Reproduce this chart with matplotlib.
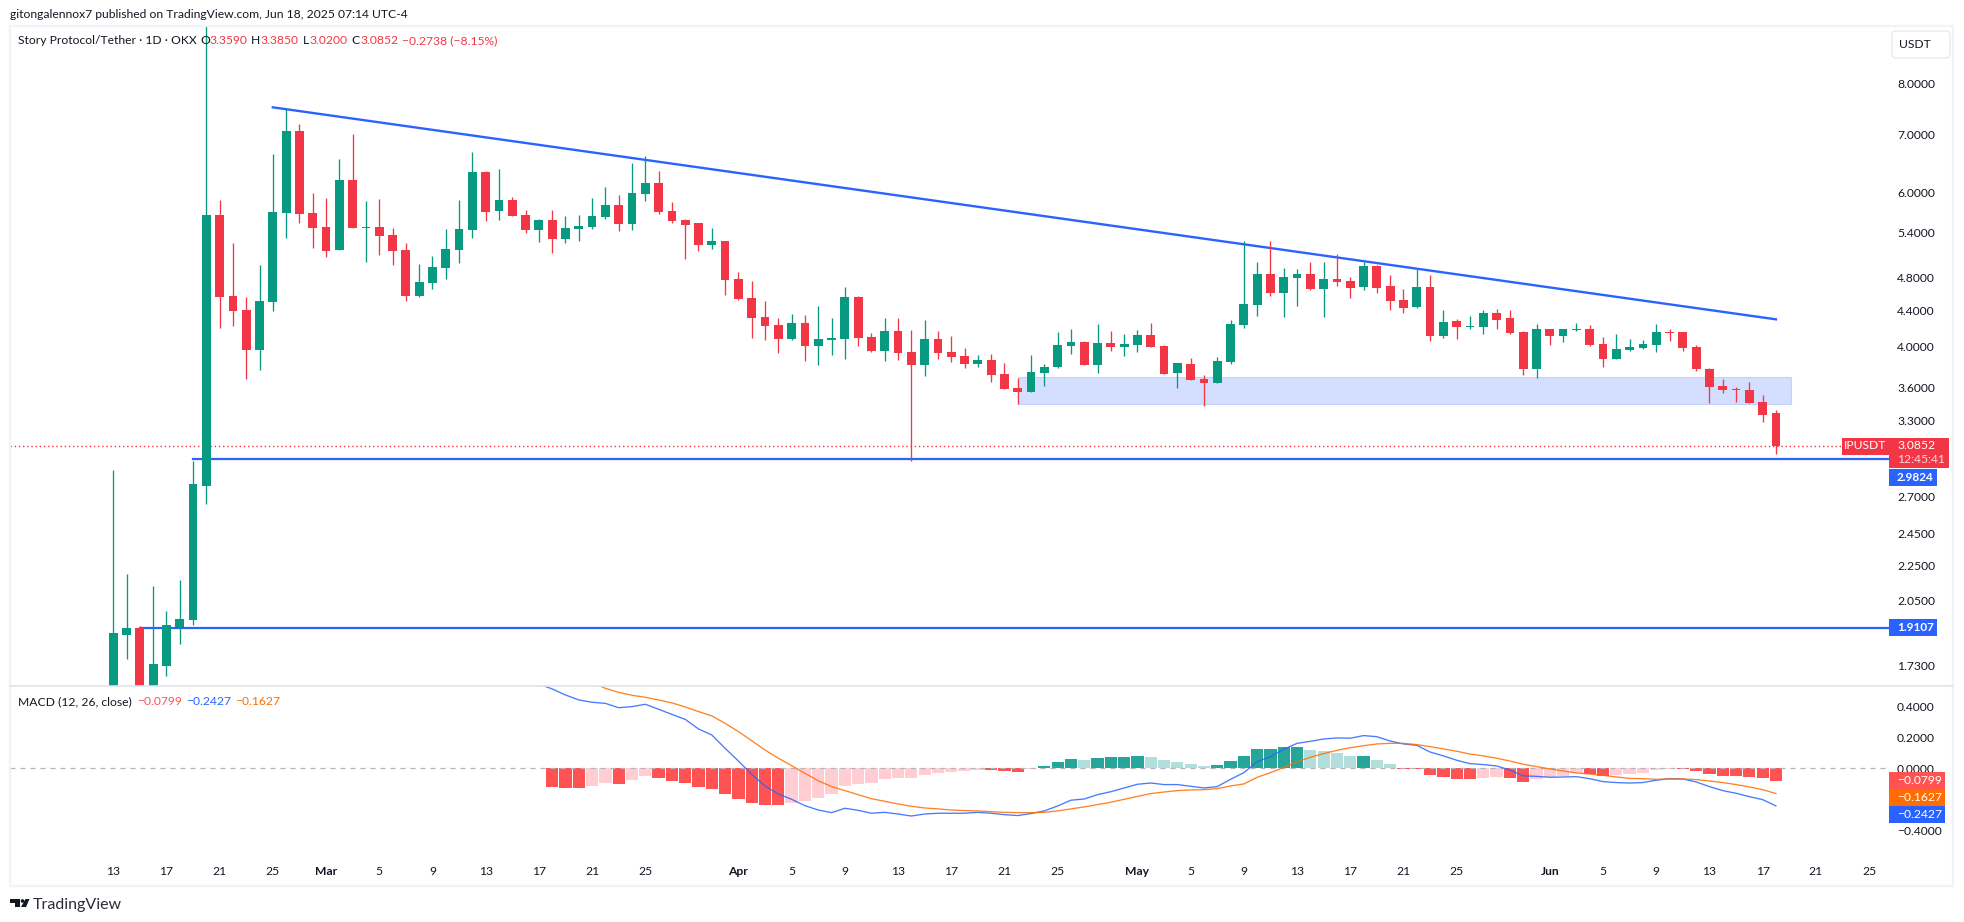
import numpy as np
import pandas as pd
import matplotlib
matplotlib.use("Agg")
import matplotlib.pyplot as plt
import matplotlib.dates as mdates
from matplotlib.patches import Rectangle, Polygon, Circle, FancyBboxPatch

start_date = "2025-02-13"
o = [1.448,1.875,1.909,1.601,1.728,1.914,1.95,2.775,5.661,4.575,4.409,3.969,4.503,5.691,7.062,5.691,5.485,5.163,6.208,5.471,5.485,5.371,5.163,4.575,4.734,4.924,5.163,5.442,6.34,5.721,5.889,5.661,5.442,5.587,5.315,5.457,5.485,5.632,5.812,5.529,5.983,6.159,5.721,5.587,5.543,5.232,5.287,4.784,4.551,4.329,4.238,4.085,4.261,4.011,4.074,4.085,4.563,4.107,3.958,4.172,3.948,3.815,4.085,3.948,3.906,3.825,3.865,3.726,3.591,3.553,3.735,3.795,4.011,4.053,3.815,4.042,4.0,4.021,4.128,4.011,3.735,3.825,3.677,3.638,3.845,4.238,4.467,4.847,4.611,4.796,4.847,4.66,4.784,4.759,4.684,4.95,4.697,4.527,4.444,4.684,4.117,4.283,4.216,4.216,4.374,4.317,4.161,3.775,4.194,4.117,4.183,4.194,4.032,3.876,3.969,3.989,4.021,4.161,4.161,4.0,3.775,3.61,3.581,3.572,3.461,3.359]
h = [2.894,2.201,1.92,2.133,1.997,2.167,2.963,9.838,5.889,5.259,4.563,4.963,6.647,7.483,7.193,5.999,5.92,6.56,7.006,5.874,5.905,5.471,5.259,4.976,5.082,5.457,5.889,6.682,6.356,6.39,5.936,5.736,5.602,5.736,5.646,5.661,5.92,6.094,5.967,6.492,6.612,6.356,5.858,5.602,5.543,5.471,5.287,4.873,4.759,4.515,4.317,4.363,4.351,4.456,4.317,4.684,4.575,4.15,4.317,4.317,4.183,4.295,4.172,4.117,3.989,3.917,3.927,3.835,3.687,3.917,3.825,4.161,4.194,4.064,4.25,4.172,4.139,4.183,4.261,4.021,3.835,3.886,3.716,3.896,4.295,5.287,5.003,5.287,4.924,4.911,5.003,5.003,5.109,4.809,5.003,4.963,4.834,4.66,4.924,4.834,4.409,4.306,4.34,4.409,4.421,4.409,4.172,4.25,4.194,4.194,4.261,4.238,4.107,4.139,4.085,4.074,4.25,4.194,4.161,4.021,3.785,3.677,3.6,3.648,3.525,3.385]
l = [1.422,1.76,1.499,1.559,1.683,1.831,1.925,2.646,4.205,4.227,3.677,3.765,4.397,5.329,5.543,5.19,5.069,5.163,5.471,5.003,5.096,4.963,4.515,4.563,4.66,4.784,4.99,5.329,5.573,5.587,5.646,5.399,5.273,5.123,5.259,5.287,5.457,5.602,5.428,5.442,5.874,5.676,5.543,5.042,5.15,5.177,4.587,4.527,4.096,4.074,3.937,4.074,3.855,3.815,3.917,3.876,4.011,3.948,3.855,3.865,2.963,3.706,3.876,3.845,3.785,3.795,3.648,3.581,3.443,3.553,3.61,3.785,3.927,3.815,3.735,3.958,3.906,3.948,4.0,3.726,3.591,3.667,3.425,3.638,3.825,4.205,4.34,4.575,4.329,4.456,4.647,4.329,4.697,4.551,4.647,4.611,4.409,4.374,4.432,4.064,4.096,4.085,4.194,4.139,4.194,4.139,3.716,3.687,4.021,4.053,4.172,4.011,3.795,3.876,3.958,3.979,3.948,4.064,3.958,3.755,3.452,3.544,3.461,3.452,3.284,3.02]
c = [1.885,1.909,1.559,1.737,1.925,1.955,2.789,5.661,4.563,4.397,3.969,4.515,5.706,7.062,5.676,5.471,5.15,6.208,5.471,5.485,5.357,5.15,4.575,4.746,4.937,5.177,5.457,6.34,5.706,5.889,5.646,5.442,5.587,5.315,5.471,5.5,5.646,5.812,5.529,5.999,6.159,5.706,5.573,5.514,5.232,5.287,4.771,4.539,4.317,4.227,4.085,4.261,4.011,4.085,4.096,4.563,4.096,3.958,4.172,3.937,3.815,4.085,3.937,3.896,3.825,3.865,3.716,3.581,3.553,3.745,3.795,4.021,4.053,3.815,4.042,4.0,4.032,4.128,4.0,3.726,3.835,3.667,3.638,3.855,4.25,4.479,4.847,4.611,4.809,4.847,4.66,4.784,4.746,4.672,4.95,4.672,4.515,4.432,4.684,4.117,4.272,4.216,4.227,4.374,4.295,4.15,3.775,4.194,4.117,4.194,4.194,4.021,3.876,3.979,4.0,4.032,4.161,4.15,3.989,3.775,3.6,3.572,3.572,3.452,3.345,3.0852]

hist_start = 33
hist = [-.120,-.127,-.128,-.114,-.095,-.101,-.075,-.049,-.062,-.082,-.095,-.120,-.133,-.166,-.198,-.224,-.237,-.238,-.224,-.211,-.191,-.166,-.114,-.101,-.095,-.069,-.062,-.061,-.043,-.030,-.024,-.017,-.010,-.013,-.017,-.024,-.004,
 .015,.041,.060,.054,.067,.073,.074,.080,.073,.054,.041,.028,.015,.022,.047,.080,.125,.126,.138,.139,.118,.112,.099,.080,.081,.054,.028,
 -.004,-.005,-.043,-.056,-.069,-.070,-.062,-.056,-.062,-.088,-.069,-.056,-.049,-.030,-.038,-.049,-.043,-.037,-.030,-.011,-.004,-.005,-.017,-.037,-.049,-.050,-.056,-.062,-.0799]
macd_start = 32
macd = [.544,.512,.473,.441,.426,.419,.391,.398,.413,.381,.348,.316,.254,.215,.129,.047,-.039,-.114,-.166,-.2,-.241,-.269,-.286,-.258,-.271,
 -0.29,-0.284,-0.295,-0.308,-0.295,-0.29,-0.29,-0.29,-0.284,-0.29,-0.299,-0.305,-0.292,-0.275,-0.243,-0.206,-0.198,-0.17,-0.151,-0.127,-0.103,-0.095,-0.105,-0.105,-0.116,-0.127,-0.118,-0.071,-0.028,0.043,0.075,0.123,0.161,0.174,0.189,0.196,0.194,0.211,0.204,0.176,0.157,0.148,0.105,0.08,0.052,0.03,0.024,0.015,-0.011,-0.049,-0.052,-0.058,-0.056,-0.054,-0.067,-0.086,-0.092,-0.095,-0.092,-0.077,-0.067,-0.069,-0.088,-0.118,-0.144,-0.161,-0.183,-0.202,-0.2427]
signal_start = 36
signal = [0.553,0.516,0.49,0.471,0.458,0.441,0.422,0.396,0.366,0.338,0.29,0.237,0.178,0.118,0.065,0.017,-0.032,-0.08,-0.118,-0.144,-0.17,-0.196,-0.213,-0.23,-0.245,-0.256,-0.262,-0.269,-0.273,-0.275,-0.28,-0.284,-0.286,-0.286,-0.284,-0.275,-0.262,-0.249,-0.234,-0.219,-0.2,-0.181,-0.163,-0.153,-0.144,-0.14,-0.138,-0.131,-0.114,-0.101,-0.058,-0.028,0.006,0.041,0.071,0.095,0.116,0.133,0.146,0.157,0.161,0.161,0.153,0.14,0.125,0.11,0.092,0.08,0.065,0.047,0.026,0.011,-0.004,-0.017,-0.03,-0.037,-0.045,-0.056,-0.065,-0.067,-0.071,-0.069,-0.069,-0.073,-0.082,-0.092,-0.105,-0.12,-0.138,-0.1627]

tick_dates = ["2025-02-13","2025-02-17","2025-02-21","2025-02-25","2025-03-01","2025-03-05","2025-03-09","2025-03-13","2025-03-17","2025-03-21","2025-03-25","2025-04-01","2025-04-05","2025-04-09","2025-04-13","2025-04-17","2025-04-21","2025-04-25","2025-05-01","2025-05-05","2025-05-09","2025-05-13","2025-05-17","2025-05-21","2025-05-25","2025-06-01","2025-06-05","2025-06-09","2025-06-13","2025-06-17","2025-06-21","2025-06-25"]
tick_labels = ["13","17","21","25","Mar","5","9","13","17","21","25","Apr","5","9","13","17","21","25","May","5","9","13","17","21","25","Jun","5","9","13","17","21","25"]
price_ticks = [8.0,7.0,6.0,5.4,4.8,4.4,4.0,3.6,3.3,2.7,2.45,2.25,2.05,1.73]
macd_ticks = [0.4,0.2,0.0,-0.4]
trend_price = [7.516, 4.302]
support_levels = [2.9824, 1.9107]
zone_prices = [3.445, 3.696]

plt.rcParams["font.family"] = "Lato"
FS = 8.7
W, H = 1964, 922
INK = "#131722"
fig = plt.figure(figsize=(W/100, H/100), dpi=100, facecolor="white")
def axpx(a, t, r, b):
    return fig.add_axes([a/W, 1-b/H, (r-a)/W, (b-t)/H])
ax = axpx(10, 26, 1889, 686)
am = axpx(10, 686, 1889, 855)
dates = pd.date_range(start_date, periods=len(o), freq="D")
x = mdates.date2num(dates)
GR, RD, BL, OR = "#089981", "#F23645", "#2962FF", "#FF6D00"
o_, h_, l_, c_ = map(np.array, (o, h, l, c))
cols = [GR if a >= b else RD for a, b in zip(c_, o_)]
ax.set_yscale("log")
ax.add_patch(Rectangle((x[68], zone_prices[0]), x[0]+126.1-x[68], zone_prices[1]-zone_prices[0], facecolor=BL, alpha=0.2, edgecolor=BL, lw=0.8, zorder=1))
ax.plot([x[12], x[125]], trend_price, color=BL, lw=1.7, zorder=2)
ax.plot([x[6], x[0]+134], [support_levels[0]]*2, color=BL, lw=1.6, zorder=2)
ax.plot([x[2], x[0]+134], [support_levels[1]]*2, color=BL, lw=1.6, zorder=2)
ax.axhline(c[-1], color=RD, lw=1.0, ls=(0, (1, 2)), zorder=2)
ax.vlines(x, l_, h_, colors=cols, lw=0.95, zorder=4)
ax.bar(x, np.abs(c_-o_), bottom=np.minimum(o_, c_), width=0.66, color=cols, zorder=5)
ax.set_ylim(1.639, 9.31)
ax.set_xlim(x[0]-7.76, x[0]+133.5)
ax.yaxis.tick_right()
ax.set_yticks(price_ticks)
ax.set_yticklabels([f"{t:.4f}" for t in price_ticks], fontsize=FS, color=INK)
ax.minorticks_off()
ax.tick_params(axis="y", length=0, pad=5.8)
ax.set_xticks([])
for s in ax.spines.values():
    s.set_visible(False)

hx = x[hist_start:]
hv = np.array(hist)
hcol = []
for i, v in enumerate(hv):
    rising = i > 0 and v > hv[i-1]
    if v >= 0:
        hcol.append("#26A69A" if rising or i == 0 else "#B2DFDB")
    else:
        hcol.append("#FFCDD2" if rising else "#FF5252")
am.bar(hx, hv, width=0.92, color=hcol, zorder=2)
am.axhline(0, color="#B2B5BE", lw=0.9, ls=(0, (4, 4)), zorder=3)
am.plot(x[macd_start:], macd, color=BL, lw=0.95, zorder=4, alpha=0.85)
am.plot(x[signal_start:], signal, color=OR, lw=0.95, zorder=5, alpha=0.85)
am.set_xlim(ax.get_xlim())
am.set_ylim(-0.5594, 0.531)
am.yaxis.tick_right()
am.set_yticks(macd_ticks)
am.set_yticklabels([f"{t:.4f}".replace("-", "\u2212") for t in macd_ticks], fontsize=FS, color=INK)
am.tick_params(axis="y", length=0, pad=5.8)
tx = mdates.date2num(pd.to_datetime(tick_dates))
am.set_xticks(tx)
am.set_xticklabels(tick_labels, fontsize=FS, color=INK)
for lab in am.get_xticklabels():
    if lab.get_text() in ("Mar", "Apr", "May", "Jun"):
        lab.set_fontweight("bold")
am.tick_params(axis="x", length=0, pad=8)
for s in am.spines.values():
    s.set_visible(False)

ov = fig.add_axes([0, 0, 1, 1], facecolor="none")
ov.set_xlim(0, W); ov.set_ylim(H, 0); ov.axis("off")
ov.plot([10, 10, 1953, 1953, 10], [26, 886, 886, 26, 26], color="#F0F3FA", lw=1.6)
ov.plot([10, 1953], [686, 686], color="#E0E3EB", lw=1.2)

def T(xp, yp, s, color=INK, size=FS, **kw):
    kw.setdefault("va", "center")
    ov.text(xp, yp, s, color=color, fontsize=size, **kw)

T(10, 15, "gitongalennox7 published on TradingView.com, Jun 18, 2025 07:14 UTC-4")
T(18, 41, "Story Protocol/Tether \u00b7 1D \u00b7 OKX")
for xp, s, col in [(200,"O",INK),(209,"3.3590",RD),(251,"H",INK),(260,"3.3850",RD),(302.5,"L",INK),(309,"3.0200",RD),(351,"C",INK),(360,"3.0852",RD),(402,"\u22120.2738 (\u22128.15%)",RD)]:
    T(xp, 41, s, color=col)
T(18, 701.5, "MACD (12, 26, close)")
T(137, 701.5, "\u22120.0799", color="#FF5252")
T(186, 701.5, "\u22120.2427", color=BL)
T(235, 701.5, "\u22120.1627", color=OR)

ov.add_patch(FancyBboxPatch((1895, 34), 52, 21, boxstyle="round,pad=3,rounding_size=4", fc="white", ec="#E8EAF0", lw=1))
T(1915, 45, "USDT", ha="center")

def ypx(axis, val):
    return H - axis.transData.transform((0, val))[1]
fig.canvas.draw()
yl = ypx(ax, c[-1])
ov.add_patch(Rectangle((1842, yl-8), 47, 17, fc=RD, ec="none"))
T(1865.5, yl, "IPUSDT", color="white", ha="center")
ov.add_patch(Rectangle((1889, yl-8), 60, 30, fc=RD, ec="none"))
T(1897, yl, f"{c[-1]:.4f}", color="white")
T(1897, yl+14, "12:45:41", color="#FFD6DA")
ys = ypx(ax, support_levels[0])
ov.add_patch(Rectangle((1889, ys+10.5), 48.5, 17, fc=BL, ec="none"))
T(1897, ys+19, f"{support_levels[0]:.4f}", color="white", fontweight="bold", size=8.5)
ys2 = ypx(ax, support_levels[1])
ov.add_patch(Rectangle((1889, ys2-8.5), 48.5, 17, fc=BL, ec="none"))
T(1897, ys2, f"{support_levels[1]:.4f}", color="white", fontweight="bold", size=8.5)
for v, yy, col in [(hist[-1], 780.5, "#FF5252"), (signal[-1], 797.5, OR), (macd[-1], 814.5, BL)]:
    ov.add_patch(Rectangle((1889, yy-8.5), 56, 17, fc=col, ec="none"))
    T(1897, yy, f"{v:.4f}".replace("-", "\u2212"), color="white")

k = "#131722"
ov.add_patch(Polygon([(10,899),(20,899),(20,907),(15,907),(15,902.5),(10,902.5)], fc=k, ec="none"))
ov.add_patch(Circle((22.5, 901), 1.8, fc=k, ec="none"))
ov.add_patch(Polygon([(25.5,899),(29.5,899),(26,907),(21,907)], fc=k, ec="none"))
T(33, 904.5, "TradingView", size=11.5, color="#2A2E39")

fig.savefig("out.png", dpi=100)
